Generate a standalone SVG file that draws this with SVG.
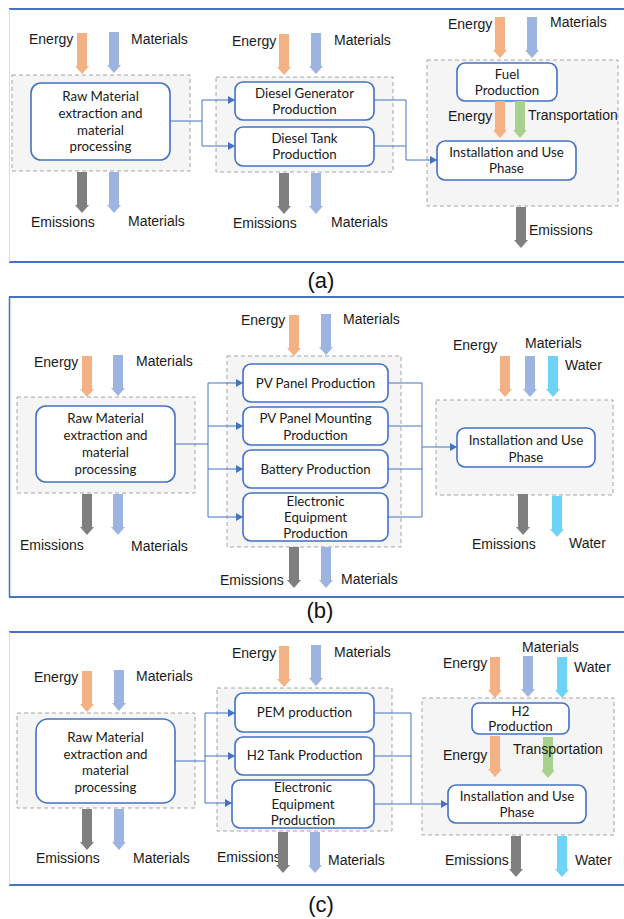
<svg xmlns="http://www.w3.org/2000/svg" xmlns:xlink="http://www.w3.org/1999/xlink" width="624" height="919" viewBox="0 0 624 919">
<style>
.lb{font-family:"Liberation Sans",Arial,sans-serif;font-size:14px;fill:#1a1a1a}
.nt{font-family:Lato,"Liberation Sans",sans-serif;font-size:13.3px;fill:#1a1a1a;text-anchor:middle}
.cap{font-family:"Liberation Sans",Arial,sans-serif;font-size:22px;fill:#111;text-anchor:middle}
.grp{fill:#f5f5f5;stroke:#a6a6a6;stroke-width:1;stroke-dasharray:4 3}
.node{fill:#fff;stroke:#4472c4;stroke-width:1.6}
.fr{stroke:#4472c4;stroke-width:1.8}
.frl{stroke:#d9d9d9;stroke-width:1}
.frlb{stroke:#4472c4;stroke-width:1.5}
.con{fill:none;stroke:#4472c4;stroke-width:1}
.en{fill:#f4b183}
.ma{fill:#9db4e1}
.em{fill:#7f7f7f}
.wa{fill:#6dd3f7}
.tr{fill:#a9d18e}
</style>
<defs>
<path id="ar" d="M-5,0 H5 V33 H7 L0,41 L-7,33 H-5 Z"/>
<path id="arS" d="M-5,0 H5 V29 H7 L0,37 L-7,29 H-5 Z"/>
<marker id="mk" markerWidth="8" markerHeight="8" refX="7" refY="4" orient="auto" markerUnits="userSpaceOnUse">
<path d="M0,0 L7,4 L0,8 Z" fill="#4472c4"/>
</marker>
</defs>
<rect width="624" height="919" fill="#fff"/>

<!-- Panel frames -->
<g id="frames">
<line class="fr" x1="9" y1="9" x2="624" y2="9"/>
<line class="fr" x1="9" y1="262" x2="624" y2="262"/>
<line class="frl" x1="9.5" y1="9" x2="9.5" y2="262"/>
<line class="fr" x1="9" y1="297" x2="624" y2="297"/>
<line class="fr" x1="9" y1="597" x2="624" y2="597"/>
<line class="frlb" x1="9.5" y1="297" x2="9.5" y2="597"/>
<line class="fr" x1="9" y1="632" x2="624" y2="632"/>
<line class="fr" x1="9" y1="885" x2="624" y2="885"/>
<line class="frl" x1="9.5" y1="632" x2="9.5" y2="885"/>
<text class="cap" x="321" y="288">(a)</text>
<text class="cap" x="320" y="618">(b)</text>
<text class="cap" x="321" y="912">(c)</text>
</g>

<!-- ===== Panel (a) ===== -->
<g id="a-raw">
<text class="lb" x="29" y="44">Energy</text>
<text class="lb" x="131" y="44">Materials</text>
<use href="#ar" class="en" x="82" y="33"/>
<use href="#ar" class="ma" x="114" y="32"/>
<rect class="grp" x="12" y="75" width="178" height="96"/>
<rect class="node" x="31" y="83" width="139" height="77" rx="10"/>
<text class="nt" x="100.5" y="101">Raw Material</text>
<text class="nt" x="100.5" y="118">extraction and</text>
<text class="nt" x="100.5" y="134.5">material</text>
<text class="nt" x="100.5" y="151">processing</text>
<use href="#ar" class="em" x="82" y="172"/>
<use href="#ar" class="ma" x="114" y="172"/>
<text class="lb" x="31" y="227">Emissions</text>
<text class="lb" x="128" y="226">Materials</text>
</g>

<g id="a-diesel">
<text class="lb" x="232" y="46">Energy</text>
<text class="lb" x="334" y="45">Materials</text>
<use href="#ar" class="en" x="284" y="34"/>
<use href="#ar" class="ma" x="316" y="33"/>
<rect class="grp" x="216" y="77" width="177" height="95"/>
<g id="a-dgen">
<rect class="node" x="235" y="82" width="139" height="38" rx="8"/>
<text class="nt" x="304.5" y="97.5">Diesel Generator</text>
<text class="nt" x="304.5" y="114">Production</text>
</g>
<g id="a-dtank">
<rect class="node" x="235" y="127" width="139" height="39" rx="8"/>
<text class="nt" x="304.5" y="142.5">Diesel Tank</text>
<text class="nt" x="304.5" y="159">Production</text>
</g>
<use href="#ar" class="em" x="284" y="173"/>
<use href="#ar" class="ma" x="316" y="173"/>
<text class="lb" x="233" y="228">Emissions</text>
<text class="lb" x="331" y="227">Materials</text>
</g>

<g id="a-use">
<text class="lb" x="448" y="29">Energy</text>
<text class="lb" x="550" y="27">Materials</text>
<use href="#ar" class="en" x="500" y="17"/>
<use href="#ar" class="ma" x="532" y="17"/>
<rect class="grp" x="427" y="60" width="191" height="146"/>
<g id="a-fuel">
<rect class="node" x="457" y="63" width="100" height="38" rx="8"/>
<text class="nt" x="507" y="78.5">Fuel</text>
<text class="nt" x="507" y="95">Production</text>
</g>
<use href="#arS" class="en" x="500" y="101"/>
<use href="#arS" class="tr" x="520" y="101"/>
<text class="lb" x="448" y="121">Energy</text>
<text class="lb" x="528" y="120">Transportation</text>
<g id="a-install">
<rect class="node" x="437" y="141" width="139" height="39" rx="8"/>
<text class="nt" x="506.5" y="156.5">Installation and Use</text>
<text class="nt" x="506.5" y="172.5">Phase</text>
</g>
<use href="#ar" class="em" x="521" y="207"/>
<text class="lb" x="529" y="235">Emissions</text>
</g>

<!-- ===== Panel (b) ===== -->
<g id="b-raw">
<text class="lb" x="34" y="367">Energy</text>
<text class="lb" x="136" y="366">Materials</text>
<use href="#ar" class="en" x="87" y="356"/>
<use href="#ar" class="ma" x="118" y="355"/>
<rect class="grp" x="17" y="397" width="178" height="96"/>
<rect class="node" x="36" y="406" width="139" height="76" rx="10"/>
<text class="nt" x="105.5" y="423">Raw Material</text>
<text class="nt" x="105.5" y="440">extraction and</text>
<text class="nt" x="105.5" y="457">material</text>
<text class="nt" x="105.5" y="474">processing</text>
<use href="#ar" class="em" x="87" y="494"/>
<use href="#ar" class="ma" x="118" y="494"/>
<text class="lb" x="20" y="550">Emissions</text>
<text class="lb" x="131" y="551">Materials</text>
</g>

<g id="b-pv">
<text class="lb" x="241" y="325">Energy</text>
<text class="lb" x="343" y="324">Materials</text>
<use href="#ar" class="en" x="294" y="315"/>
<use href="#ar" class="ma" x="326" y="314"/>
<rect class="grp" x="227" y="356" width="174" height="191"/>
<g id="b-panel">
<rect class="node" x="243" y="364" width="145" height="38" rx="8"/>
<text class="nt" x="315.5" y="388">PV Panel Production</text>
</g>
<g id="b-mount">
<rect class="node" x="243" y="407" width="145" height="38" rx="8"/>
<text class="nt" x="315.5" y="422.5">PV Panel Mounting</text>
<text class="nt" x="315.5" y="439.5">Production</text>
</g>
<g id="b-battery">
<rect class="node" x="243" y="450" width="145" height="38" rx="8"/>
<text class="nt" x="315.5" y="474">Battery Production</text>
</g>
<g id="b-elec">
<rect class="node" x="243" y="493" width="145" height="48" rx="8"/>
<text class="nt" x="315.5" y="506">Electronic</text>
<text class="nt" x="315.5" y="522">Equipment</text>
<text class="nt" x="315.5" y="538">Production</text>
</g>
<use href="#ar" class="em" x="294" y="547"/>
<use href="#ar" class="ma" x="326" y="547"/>
<text class="lb" x="220" y="585">Emissions</text>
<text class="lb" x="341" y="584">Materials</text>
</g>

<g id="b-use">
<text class="lb" x="453" y="350">Energy</text>
<text class="lb" x="525" y="348">Materials</text>
<text class="lb" x="565" y="370">Water</text>
<use href="#ar" class="en" x="505" y="356"/>
<use href="#ar" class="ma" x="530" y="356"/>
<use href="#ar" class="wa" x="553" y="356"/>
<rect class="grp" x="436" y="400" width="177" height="95"/>
<g id="b-install">
<rect class="node" x="457" y="428" width="138" height="39" rx="8"/>
<text class="nt" x="526" y="445">Installation and Use</text>
<text class="nt" x="526" y="461.5">Phase</text>
</g>
<use href="#ar" class="em" x="523" y="494"/>
<use href="#ar" class="wa" x="557" y="496"/>
<text class="lb" x="472" y="549">Emissions</text>
<text class="lb" x="569" y="548">Water</text>
</g>

<!-- ===== Panel (c) ===== -->
<g id="c-raw">
<text class="lb" x="34" y="682">Energy</text>
<text class="lb" x="136" y="681">Materials</text>
<use href="#ar" class="en" x="87" y="671"/>
<use href="#ar" class="ma" x="119" y="670"/>
<rect class="grp" x="17" y="713" width="178" height="95"/>
<rect class="node" x="36" y="719" width="139" height="84" rx="12"/>
<text class="nt" x="105.5" y="741.5">Raw Material</text>
<text class="nt" x="105.5" y="758.5">extraction and</text>
<text class="nt" x="105.5" y="775">material</text>
<text class="nt" x="105.5" y="791.5">processing</text>
<use href="#ar" class="em" x="87" y="809"/>
<use href="#ar" class="ma" x="119" y="809"/>
<text class="lb" x="36" y="863">Emissions</text>
<text class="lb" x="133" y="863">Materials</text>
</g>

<g id="c-pem">
<text class="lb" x="232" y="658">Energy</text>
<text class="lb" x="334" y="657">Materials</text>
<use href="#ar" class="en" x="284" y="646"/>
<use href="#ar" class="ma" x="316" y="645"/>
<rect class="grp" x="217" y="688" width="175" height="143"/>
<g id="c-pemnode">
<rect class="node" x="235" y="693" width="139" height="39" rx="8"/>
<text class="nt" x="304.5" y="717">PEM production</text>
</g>
<g id="c-tank">
<rect class="node" x="235" y="737" width="139" height="38" rx="8"/>
<text class="nt" x="304.5" y="760">H2 Tank Production</text>
</g>
<g id="c-elec">
<rect class="node" x="232" y="780" width="142" height="48" rx="8"/>
<text class="nt" x="303" y="792">Electronic</text>
<text class="nt" x="303" y="808.5">Equipment</text>
<text class="nt" x="303" y="825">Production</text>
</g>
<text class="lb" x="217" y="862">Emissions</text>
<use href="#ar" class="em" x="283" y="832"/>
<use href="#ar" class="ma" x="315" y="832"/>
<text class="lb" x="328" y="865">Materials</text>
</g>

<g id="c-use">
<text class="lb" x="522" y="652">Materials</text>
<text class="lb" x="443" y="668">Energy</text>
<text class="lb" x="574" y="672">Water</text>
<use href="#ar" class="en" x="495" y="657"/>
<use href="#ar" class="ma" x="528" y="656"/>
<use href="#ar" class="wa" x="562" y="657"/>
<rect class="grp" x="422" y="698" width="192" height="137"/>
<g id="c-h2">
<rect class="node" x="472" y="703" width="97" height="31" rx="7"/>
<text class="nt" x="520.5" y="716">H2</text>
<text class="nt" x="520.5" y="731">Production</text>
</g>
<use href="#ar" class="en" x="495" y="736"/>
<use href="#ar" class="tr" x="548" y="737"/>
<text class="lb" x="443" y="760">Energy</text>
<text class="lb" x="513" y="754">Transportation</text>
<g id="c-install">
<rect class="node" x="448" y="785" width="138" height="38" rx="8"/>
<text class="nt" x="517" y="801">Installation and Use</text>
<text class="nt" x="517" y="817">Phase</text>
</g>
<use href="#ar" class="em" x="516" y="836"/>
<use href="#ar" class="wa" x="562" y="836"/>
<text class="lb" x="445" y="865">Emissions</text>
<text class="lb" x="575" y="865">Water</text>
</g>

<!-- ===== Connectors ===== -->
<g id="connectors">
<path class="con" d="M170,121 H202 M202,100 V146"/>
<path class="con" d="M202,100 H235" marker-end="url(#mk)"/>
<path class="con" d="M202,146 H235" marker-end="url(#mk)"/>
<path class="con" d="M374,100 H406 M374,146 H406 M406,100 V160"/>
<path class="con" d="M406,160 H437" marker-end="url(#mk)"/>

<path class="con" d="M175,444 H208 M208,383 V517"/>
<path class="con" d="M208,383 H243" marker-end="url(#mk)"/>
<path class="con" d="M208,426 H243" marker-end="url(#mk)"/>
<path class="con" d="M208,469 H243" marker-end="url(#mk)"/>
<path class="con" d="M208,517 H243" marker-end="url(#mk)"/>
<path class="con" d="M388,383 H422 M388,426 H422 M388,469 H422 M388,517 H422 M422,383 V517"/>
<path class="con" d="M422,447 H457" marker-end="url(#mk)"/>

<path class="con" d="M175,761 H205 M205,713 V803"/>
<path class="con" d="M205,713 H235" marker-end="url(#mk)"/>
<path class="con" d="M205,756 H235" marker-end="url(#mk)"/>
<path class="con" d="M205,803 H232" marker-end="url(#mk)"/>
<path class="con" d="M374,713 H411 M374,756 H411 M411,713 V804"/>
<path class="con" d="M374,804 H448" marker-end="url(#mk)"/>
</g>
</svg>
